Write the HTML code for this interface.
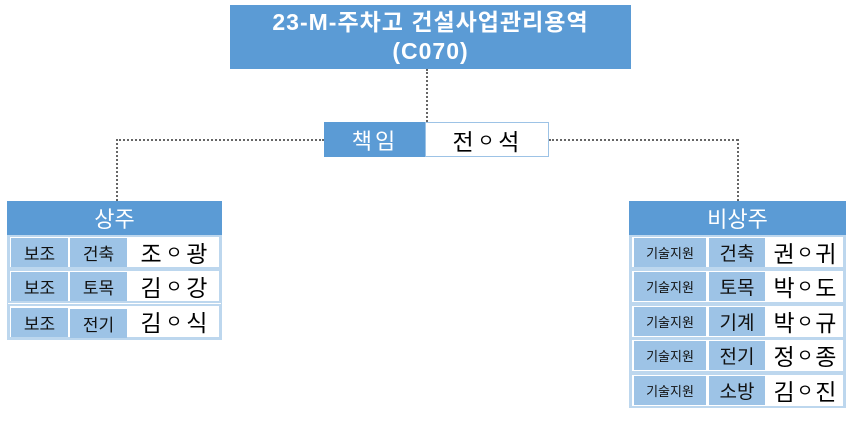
<!DOCTYPE html>
<html><head><meta charset="utf-8"><style>
body{margin:0;width:852px;height:422px;background:#fff;position:relative;overflow:hidden;font-family:"Liberation Sans","Noto Sans CJK KR",sans-serif}
.a{position:absolute;box-sizing:border-box}
.b{background:#5b9bd5;color:#fff;display:flex;align-items:center;justify-content:center}
.c{background:#9dc3e6;color:#111;display:flex;align-items:center;justify-content:center;font-size:17px}
.n{display:flex;align-items:center;justify-content:center;font-size:23px;letter-spacing:2px;color:#000}
.n i{font-style:normal;font-size:18px;margin:0 2px}
.row{border:2px solid #bdd7ee;background:#fff}
.d{position:absolute;border:0 dotted #666}
</style></head><body>
<div class="a b" style="left:230px;top:5px;width:401px;height:64px;font-weight:bold;font-size:23px;letter-spacing:1px;line-height:29px;text-align:center;flex-direction:column"><div>23-M-주차고 건설사업관리용역</div><div>(C070)</div></div>
<div class="d" style="left:426px;top:69px;height:53px;border-left-width:2px"></div>
<div class="d" style="left:116px;top:139px;width:208px;border-top-width:2px"></div>
<div class="d" style="left:116px;top:139px;height:62px;border-left-width:2px"></div>
<div class="d" style="left:549px;top:139px;width:189px;border-top-width:2px"></div>
<div class="d" style="left:737px;top:139px;height:62px;border-left-width:2px"></div>
<div class="a b" style="left:324px;top:122px;width:102px;height:35px;font-size:22px;letter-spacing:3px">책임</div>
<div class="a n" style="left:425px;top:122px;width:124px;height:35px;border:1px solid #9dc3e6">전<i>ㅇ</i>석</div>

<div class="a b" style="left:7px;top:201px;width:215px;height:34px;font-size:22px">상주</div>
<div class="a" style="left:7px;top:235px;width:215px;height:105px;border:1px solid #bdd7ee"></div>
<div class="a row" style="left:8px;top:235px;width:213px;height:34px"></div>
<div class="a c" style="left:11px;top:238px;width:57px;height:29px">보조</div><div class="a c" style="left:70px;top:238px;width:57px;height:29px">건축</div><div class="a n" style="left:130px;top:236px;width:90px;height:32px">조<i>ㅇ</i>광</div>
<div class="a row" style="left:8px;top:269px;width:213px;height:34px"></div>
<div class="a c" style="left:11px;top:272px;width:57px;height:29px">보조</div><div class="a c" style="left:70px;top:272px;width:57px;height:29px">토목</div><div class="a n" style="left:130px;top:270px;width:90px;height:32px">김<i>ㅇ</i>강</div>
<div class="a row" style="left:8px;top:304px;width:213px;height:35px"></div>
<div class="a c" style="left:11px;top:308px;width:57px;height:29px">보조</div><div class="a c" style="left:70px;top:309px;width:57px;height:29px">전기</div><div class="a n" style="left:130px;top:305px;width:90px;height:32px">김<i>ㅇ</i>식</div>

<div class="a b" style="left:629px;top:201px;width:217px;height:34px;font-size:22px">비상주</div>
<div class="a" style="left:629px;top:235px;width:217px;height:173px;border:1px solid #bdd7ee"></div>
<div class="a row" style="left:630px;top:235px;width:215px;height:34px"></div>
<div class="a c" style="left:634px;top:238px;width:72px;height:29px;font-size:13px">기술지원</div><div class="a c" style="left:709px;top:238px;width:56px;height:29px;font-size:19px">건축</div><div class="a n" style="left:767px;top:236px;width:76px;height:32px;letter-spacing:0">권<i>ㅇ</i>귀</div>
<div class="a row" style="left:630px;top:269px;width:215px;height:35px"></div>
<div class="a c" style="left:634px;top:272px;width:72px;height:29px;font-size:13px">기술지원</div><div class="a c" style="left:709px;top:272px;width:56px;height:29px;font-size:19px">토목</div><div class="a n" style="left:767px;top:270px;width:76px;height:32px;letter-spacing:0">박<i>ㅇ</i>도</div>
<div class="a row" style="left:630px;top:304px;width:215px;height:35px"></div>
<div class="a c" style="left:634px;top:307px;width:72px;height:29px;font-size:13px">기술지원</div><div class="a c" style="left:709px;top:307px;width:56px;height:29px;font-size:19px">기계</div><div class="a n" style="left:767px;top:305px;width:76px;height:32px;letter-spacing:0">박<i>ㅇ</i>규</div>
<div class="a row" style="left:630px;top:338px;width:215px;height:35px"></div>
<div class="a c" style="left:634px;top:341px;width:72px;height:29px;font-size:13px">기술지원</div><div class="a c" style="left:709px;top:341px;width:56px;height:29px;font-size:19px">전기</div><div class="a n" style="left:767px;top:339px;width:76px;height:32px;letter-spacing:0">정<i>ㅇ</i>종</div>
<div class="a row" style="left:630px;top:373px;width:215px;height:35px"></div>
<div class="a c" style="left:634px;top:376px;width:72px;height:29px;font-size:13px">기술지원</div><div class="a c" style="left:709px;top:376px;width:56px;height:29px;font-size:19px">소방</div><div class="a n" style="left:767px;top:374px;width:76px;height:32px;letter-spacing:0">김<i>ㅇ</i>진</div>
</body></html>
